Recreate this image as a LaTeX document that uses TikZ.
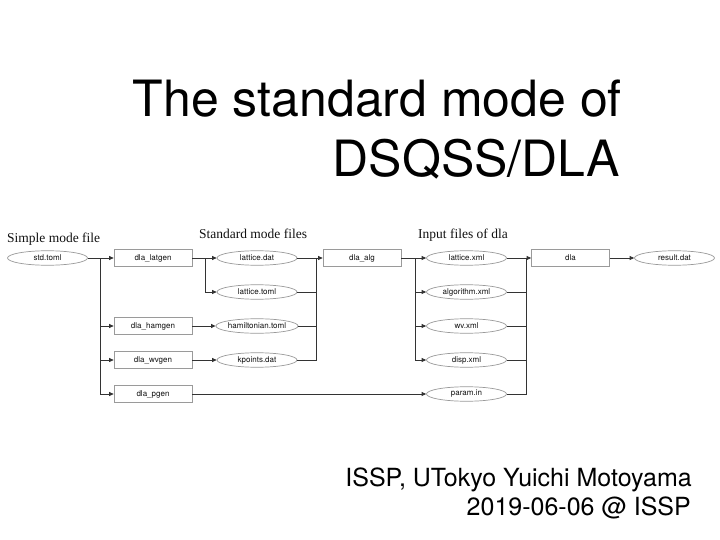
\documentclass[tikz,border=0pt]{standalone}
\usepackage{fontspec}
\setmainfont{Liberation Serif}
\setsansfont{TeX Gyre Heros}
\usetikzlibrary{arrows.meta, shapes.geometric}
\definecolor{ink}{HTML}{111111}
\definecolor{wire}{HTML}{333333}
\definecolor{rim}{HTML}{9A9A9A}
\tikzset{
  font=\sffamily,
  >={Triangle[length=4.5pt, width=4pt]},
  %
  prog/.style={
    draw=rim, line width=0.7pt, fill=white, inner sep=0pt,
    minimum width=78pt, minimum height=17pt, text=ink,
    font=\sffamily\fontsize{8}{9}\selectfont,
  },
  datafile/.style={prog, ellipse, minimum width=80pt, minimum height=14.5pt},
  %
  flow/.style={draw=wire, line width=0.8pt, ->},
  link/.style={draw=wire, line width=0.8pt},
  %
  grouplbl/.style={font=\rmfamily\fontsize{13.5}{15}\selectfont, text=ink,
                   inner sep=0pt, anchor=base},
  headline/.style={font=\sffamily\fontsize{50}{60}\selectfont, text=black,
                   inner sep=0pt, anchor=base east},
  byline/.style={font=\sffamily\fontsize{25}{30}\selectfont, text=black,
                 inner sep=0pt, anchor=base east},
}

\begin{document}
\begin{tikzpicture}[x=1pt, y=-1pt]
\useasboundingbox (0,0) rectangle (720,540);
\fill[white] (0,0) rectangle (720,540);

% ---------------------------------------------------------------- title
\node[headline] (t1) at (622,117) {The standard mode of};
\node[headline] (t2) at (620,177) {DSQSS/DLA};

% --------------------------------------------------------------- groups
\node[grouplbl, anchor=base west] (g1) at (7,242) {Simple mode file};
\node[grouplbl] (g2) at (253,239) {Standard mode files};
\node[grouplbl] (g3) at (463,239) {Input files of dla};

% ---------------------------------------------------------------- nodes
\node[datafile] (std) at (47.5,258) {std.toml};

\node[prog] (latgen) at (153,258) {dla\_latgen};
\node[prog] (hamgen) at (153,326) {dla\_hamgen};
\node[prog] (wvgen)  at (153,360) {dla\_wvgen};
\node[prog] (pgen)   at (153,394) {dla\_pgen};

\node[datafile] (latdat)  at (257,258) {lattice.dat};
\node[datafile] (lattoml) at (257,292) {lattice.toml};
\node[datafile] (hamtoml) at (257,326) {hamiltonian.toml};
\node[datafile] (kpts)    at (257,360) {kpoints.dat};

\node[prog] (alg) at (362,258) {dla\_alg};

\node[datafile] (latxml)  at (466.5,258) {lattice.xml};
\node[datafile] (algxml)  at (466.5,292) {algorithm.xml};
\node[datafile] (wvxml)   at (466.5,326) {wv.xml};
\node[datafile] (dispxml) at (466.5,360) {disp.xml};
\node[datafile] (param)   at (466.5,394) {param.in};

\node[prog] (dla) at (570.5,258) {dla};
\node[datafile] (result) at (674.5,258) {result.dat};

% ------------------------------------------------------------ connectors
\coordinate (busA)  at (100,258);
\coordinate (busB)  at (205,258);
\coordinate (joinC) at (316,258);
\coordinate (busD)  at (415,258);
\coordinate (joinE) at (526,258);

\draw[link] (std) -- (busA);
\foreach \n in {latgen,hamgen,wvgen,pgen} { \draw[flow] (busA) |- (\n); }

\draw[link] (latgen) -- (busB);
\foreach \n in {latdat,lattoml} { \draw[flow] (busB) |- (\n); }
\draw[flow] (hamgen) -- (hamtoml);
\draw[flow] (wvgen) -- (kpts);

\foreach \n in {latdat,lattoml,hamtoml,kpts} { \draw[link] (\n) -| (joinC); }
\draw[flow] (joinC) -- (alg);

\draw[link] (alg) -- (busD);
\foreach \n in {latxml,algxml,wvxml,dispxml} { \draw[flow] (busD) |- (\n); }
\draw[flow] (pgen) -- (param);

\foreach \n in {latxml,algxml,wvxml,dispxml,param} { \draw[link] (\n) -| (joinE); }
\draw[flow] (joinE) -- (dla);
\draw[flow] (dla) -- (result);

% ---------------------------------------------------------------- byline
\node[byline] (b1) at (692,486) {ISSP, UTokyo Yuichi Motoyama};
\node[byline] (b2) at (691,515) {2019-06-06 @ ISSP};

\end{tikzpicture}
\end{document}
